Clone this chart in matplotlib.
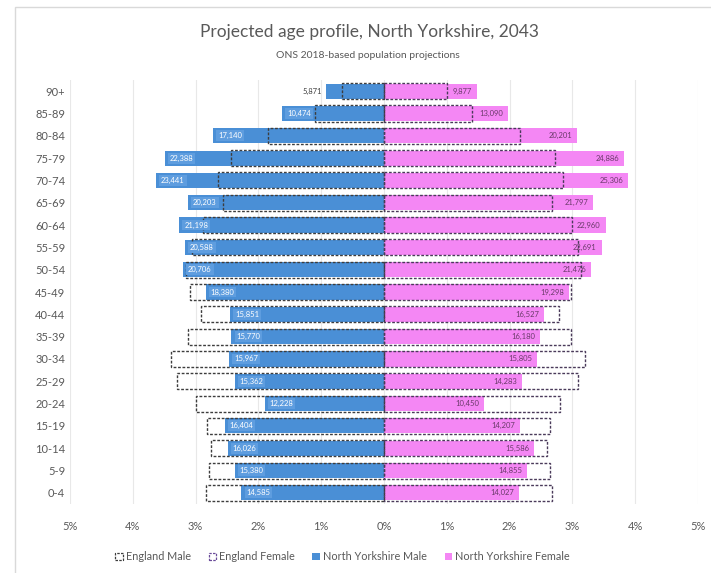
import numpy as np
import matplotlib as mpl
mpl.use('Agg')
import matplotlib.pyplot as plt
from matplotlib.patches import Patch, Rectangle

# age bands, top of the pyramid first
ages = ['90+', '85-89', '80-84', '75-79', '70-74', '65-69', '60-64', '55-59', '50-54',
        '45-49', '40-44', '35-39', '30-34', '25-29', '20-24', '15-19', '10-14', '5-9', '0-4']

# percent of total population
eng_male = [0.67, 1.10, 1.85, 2.44, 2.64, 2.56, 2.88, 3.06, 3.15,
            3.09, 2.91, 3.12, 3.39, 3.30, 3.00, 2.82, 2.75, 2.79, 2.84]
eng_female = [1.00, 1.40, 2.17, 2.72, 2.85, 2.68, 3.00, 3.09, 3.13,
              2.98, 2.79, 2.97, 3.20, 3.09, 2.81, 2.65, 2.60, 2.64, 2.67]
ny_male = [0.92, 1.62, 2.72, 3.49, 3.63, 3.12, 3.26, 3.17, 3.20,
           2.84, 2.45, 2.43, 2.47, 2.38, 1.90, 2.54, 2.49, 2.38, 2.27]
ny_female = [1.48, 1.97, 3.08, 3.82, 3.89, 3.33, 3.53, 3.47, 3.30,
             2.95, 2.55, 2.49, 2.44, 2.20, 1.60, 2.17, 2.39, 2.28, 2.15]

# data labels (counts)
ny_male_lbl = ['5,871', '10,474', '17,140', '22,388', '23,441', '20,203', '21,198', '20,588', '20,706',
               '18,380', '15,851', '15,770', '15,967', '15,362', '12,228', '16,404', '16,026', '15,380', '14,585']
ny_female_lbl = ['9,877', '13,090', '20,201', '24,886', '25,306', '21,797', '22,960', '22,691', '21,476',
                 '19,298', '16,527', '16,180', '15,805', '14,283', '10,450', '14,207', '15,586', '14,855', '14,027']

xticks = [-5, -4, -3, -2, -1, 0, 1, 2, 3, 4, 5]

blue = '#4a8fd6'
pink = '#f487f4'
grey = '#595959'

plt.rcParams['font.family'] = ['Lato', 'DejaVu Sans']

fig = plt.figure(figsize=(7.11, 5.73), dpi=100)
ax = fig.add_axes([0.0985, 0.1204, 0.8832, 0.74])

y = np.arange(len(ages))
h = 0.68

ax.barh(y, -np.array(ny_male), height=h, color=blue, zorder=2)
ax.barh(y, ny_female, height=h, color=pink, zorder=2)
ax.barh(y, -np.array(eng_male), height=h + 0.04, facecolor='none', edgecolor='#3d3d3d',
        linestyle=(0, (2, 1.2)), linewidth=1.0, zorder=3)
ax.barh(y, eng_female, height=h + 0.04, facecolor='none', edgecolor='#4a3a5a',
        linestyle=(0, (2, 1.2)), linewidth=1.0, zorder=3)

for i in range(len(ages)):
    if ny_male[i] < 1.2:
        ax.text(-ny_male[i] - 0.06, y[i], ny_male_lbl[i], ha='right', va='center',
                fontsize=5.5, color='#404040', zorder=4)
    else:
        ax.text(-ny_male[i] + 0.08, y[i], ny_male_lbl[i], ha='left', va='center',
                fontsize=5.5, color='white', zorder=4,
                bbox=dict(boxstyle='square,pad=0.25', facecolor='#5e9ddf', edgecolor='none'))
    ax.text(ny_female[i] - 0.08, y[i], ny_female_lbl[i], ha='right', va='center',
            fontsize=5.5, color='#6a3a6a', zorder=4)

ax.set_xlim(-5, 5)
ax.set_ylim(-0.5, len(ages) - 0.5)
ax.invert_yaxis()
ax.set_xticks(xticks)
ax.set_xticklabels(['%d%%' % abs(v) for v in xticks])
ax.set_yticks(y)
ax.set_yticklabels(ages)
ax.tick_params(length=0, labelsize=8, colors=grey)
ax.tick_params(axis='x', pad=12)
ax.grid(axis='x', color='#e8e8e8', linewidth=0.8, zorder=0)
ax.set_axisbelow(True)
for s in ax.spines.values():
    s.set_visible(False)

fig.text(0.52, 0.944, 'Projected age profile, North Yorkshire, 2043', ha='center', va='center',
         fontsize=12.5, color=grey)
fig.text(0.517, 0.903, 'ONS 2018-based population projections', ha='center', va='center',
         fontsize=7.5, color=grey)

handles = [Patch(facecolor='white', edgecolor='#3d3d3d', linestyle=(0, (2, 1)), linewidth=0.9),
           Patch(facecolor='white', edgecolor='#6b4c9a', linestyle=(0, (2, 1)), linewidth=0.9),
           Patch(facecolor=blue), Patch(facecolor=pink)]
labels = ['England Male', 'England Female', 'North Yorkshire Male', 'North Yorkshire Female']
leg = fig.legend(handles, labels, loc='center', bbox_to_anchor=(0.482, 0.028), ncol=4,
                 frameon=False, fontsize=7.8, handlelength=0.7, handleheight=0.7,
                 handletextpad=0.3, columnspacing=1.6, labelcolor=grey)

fig.patches.append(Rectangle((15 / 711, -0.01), 1.0, 1.0 - 7 / 573 + 0.01, transform=fig.transFigure,
                             facecolor='none', edgecolor='#d9d9d9', linewidth=1.0))

fig.savefig('out.png', dpi=100)
